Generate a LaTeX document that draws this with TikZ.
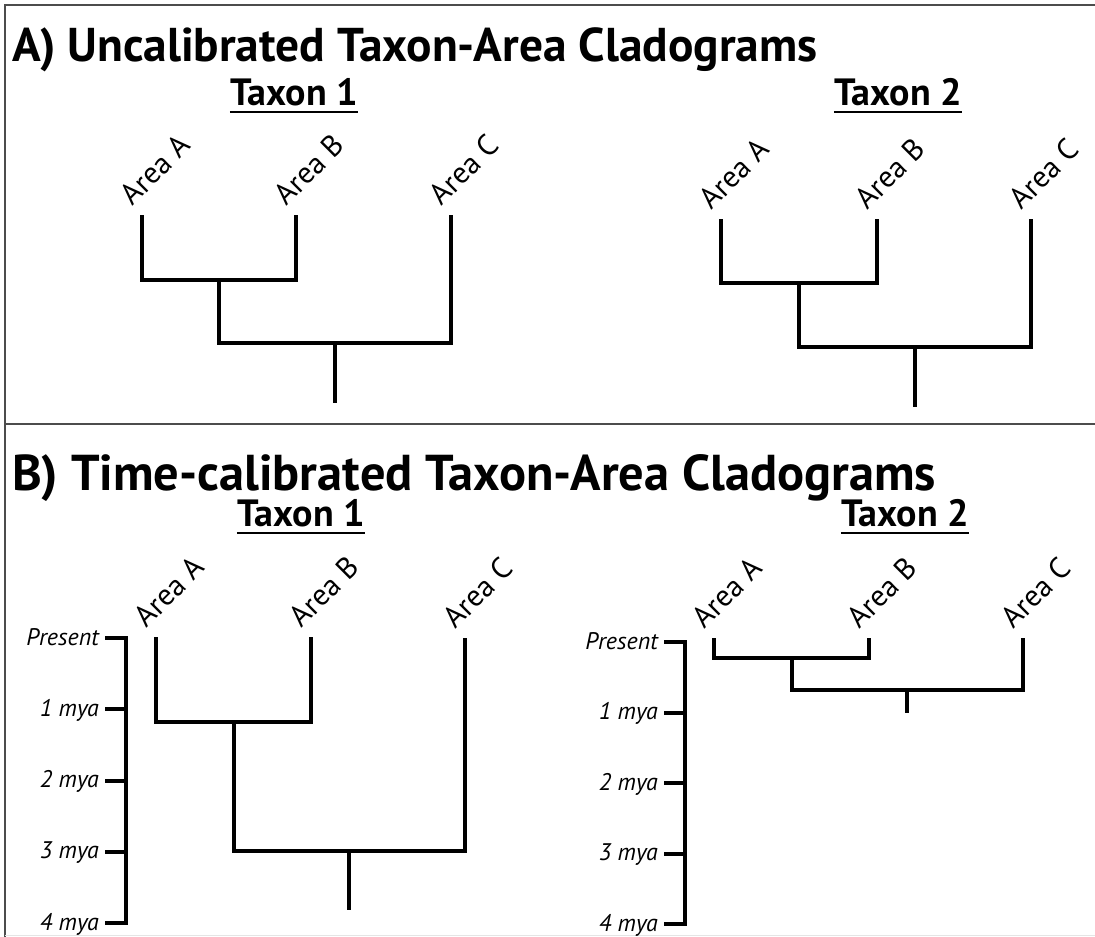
\documentclass[tikz,border=0pt]{standalone}
\usepackage{fontspec}
\setmainfont{PT Sans}
\usetikzlibrary{calc}

% One three-taxon cladogram: #1 name prefix, #2/#3/#4 x of Area A/B/C,
% #5 tip y of A and B, #6 tip y of C, #7 y of the A+B split,
% #8 y of the root split, #9 y of the root stem's end
\newcommand\cladogram[9]{%
  \coordinate (#1a) at (#2,#5);
  \coordinate (#1b) at (#3,#5);
  \coordinate (#1c) at (#4,#6);
  \coordinate (#1ab) at ({(#2+#3)/2},#7);
  \coordinate (#1r) at ({((#2+#3)/2+#4)/2},#8);
  \coordinate (#1base) at ({((#2+#3)/2+#4)/2},#9);
  \draw[branch] (#1a) |- (#1ab) -| (#1b);
  \draw[branch] (#1c) |- (#1r) -| (#1ab);
  \draw[branch] (#1r) -- (#1base);
  \node[tiplabel] (#1la) at ([shift={(-9,-8)}]#1a) {Area A};
  \node[tiplabel] (#1lb) at ([shift={(-9,-8)}]#1b) {Area B};
  \node[tiplabel] (#1lc) at ([shift={(-9,-8)}]#1c) {Area C};
}

% Time axis: #1 name prefix, #2 x of the axis, #3 y of "Present", #4 step per mya
\newcommand\timeaxis[4]{%
  \foreach \lab [count=\i from 0] in {Present,1 mya,2 mya,3 mya,4 mya} {
    \coordinate (#1t\i) at (#2,{#3+\i*#4});
    \node[agelabel] (#1l\i) at ([shift={(-27,7)}]#1t\i) {\lab};
    \draw[agetick] (#1l\i.base east) ++(6,-7) -- (#1t\i);
  }
  \draw[agetick, line cap=rect] (#1t0) -- (#1t4);
}

\begin{document}
\begin{tikzpicture}[x=1pt,y=-1pt,
  branch/.style={line width=4pt, line join=miter},
  agetick/.style={line width=4pt},
  frameline/.style={line width=2.2pt, draw=black!70},
  headrule/.style={line width=2.2pt},
  tiplabel/.style={rotate=45, anchor=south west, inner sep=0pt,
    font=\fontsize{30}{30}\selectfont},
  titleA/.style={anchor=base west, inner sep=0pt,
    font=\fontsize{47.4}{47.4}\selectfont\bfseries},
  titleB/.style={anchor=base west, inner sep=0pt,
    font=\fontsize{50.4}{50.4}\selectfont\bfseries},
  taxonhead/.style={anchor=base, inner sep=0pt,
    font=\fontsize{38}{38}\selectfont\bfseries},
  agelabel/.style={anchor=base east, inner sep=0pt,
    font=\fontsize{24}{24}\selectfont\itshape}]
\useasboundingbox[fill=white] (0,0) rectangle (1095,937);

% frame and panel divider
\draw[frameline] (5,937) -- (5,5) -- (1095,5);
\draw[frameline] (5,424) -- (1095,424);
\draw[black!10, line width=1pt] (5,935.5) -- (1095,935.5);

% panel A
\node[titleA] (titleA) at (12,61) {A) Uncalibrated Taxon-Area Cladograms};
\node[taxonhead] (hA1) at (294,105) {Taxon 1};
\draw[headrule] ([yshift=-7pt]hA1.base west) -- ([yshift=-7pt]hA1.base east);
\node[taxonhead] (hA2) at (898,105) {Taxon 2};
\draw[headrule] ([yshift=-7pt]hA2.base west) -- ([yshift=-7pt]hA2.base east);
\cladogram{ua}{142}{296}{451}{215}{215}{280}{343}{403}
\cladogram{ub}{721}{877}{1031}{219}{219}{283}{347}{407}

% panel B
\node[titleB] (titleB) at (12,490) {B) Time-calibrated Taxon-Area Cladograms};
\node[taxonhead] (hB1) at (301,526) {Taxon 1};
\draw[headrule] ([yshift=-7pt]hB1.base west) -- ([yshift=-7pt]hB1.base east);
\node[taxonhead] (hB2) at (905,526) {Taxon 2};
\draw[headrule] ([yshift=-7pt]hB2.base west) -- ([yshift=-7pt]hB2.base east);
\timeaxis{ta}{126}{638}{71.25}
\timeaxis{tb}{685}{642}{70.5}
\cladogram{ca}{156}{311}{465}{637}{638}{722}{851}{910}
\cladogram{cb}{714}{869}{1023}{638}{638}{658}{690}{713}
\end{tikzpicture}
\end{document}
